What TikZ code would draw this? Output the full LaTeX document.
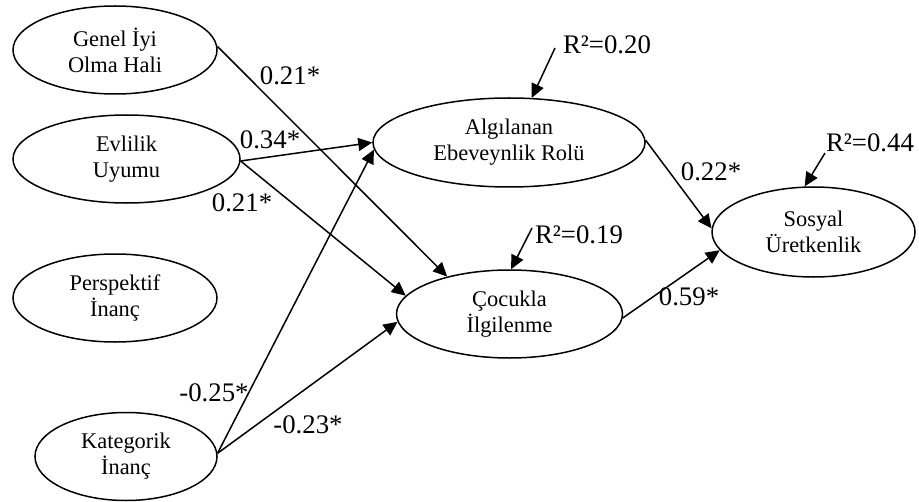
\documentclass[tikz,border=0pt]{standalone}
\usepackage{fontspec}
\setmainfont{Liberation Serif}
\usetikzlibrary{shapes.geometric, arrows.meta}

\begin{document}
\begin{tikzpicture}[x=0.5pt, y=-0.5pt,
    latent/.style={draw=black, line width=0.75pt, ellipse, inner sep=0pt, minimum height=44pt, align=center, font=\fontsize{11.2}{13}\selectfont},
    effect/.style={draw=black, line width=0.75pt, -{Triangle[length=7pt, width=6.5pt]}},
    coef/.style={inner sep=0pt, font=\fontsize{13.4}{15}\selectfont}]
    \useasboundingbox (0,0) rectangle (919,502);
    % predictors
    \node (genel) [latent, minimum width=102pt] at (115,50) {Genel İyi\\Olma Hali};
    \node (evlilik) [latent, minimum width=113.5pt] at (126.5,159) {Evlilik\\Uyumu};
    \node (perspektif) [latent, minimum width=102pt] at (115,298) {Perspektif\\İnanç};
    \node (kategorik) [latent, minimum width=91pt] at (126,456.5) {Kategorik\\İnanç};
    % mediators and outcome
    \node (algilanan) [latent, minimum width=136pt, minimum height=44.5pt] at (509,142.5) {Algılanan\\Ebeveynlik Rolü};
    \node (cocukla) [latent, minimum width=113pt] at (509.5,314) {Çocukla\\İlgilenme};
    \node (sosyal) [latent, minimum width=101.5pt, minimum height=45pt] at (813.5,232) {Sosyal\\Üretkenlik};
    % paths
    \draw[effect] (genel.2) -- (cocukla.149);
    \draw[effect] (evlilik.-1) -- (algilanan.180);
    \draw[effect] (evlilik.-1) -- (cocukla.170);
    \draw[effect] (kategorik.2) -- (algilanan.183);
    \draw[effect] (kategorik.2) -- (cocukla.184);
    \draw[effect] (algilanan.1) -- (sosyal.178);
    \draw[effect] (cocukla.-2) -- (sosyal.191);
    % path coefficients
    \node (b genel coc) [coef] at (290,76) {0.21*};
    \node (b evl alg) [coef] at (270,140) {0.34*};
    \node (b evl coc) [coef] at (242,203) {0.21*};
    \node (b kat alg) [coef] at (214,393) {-0.25*};
    \node (b kat coc) [coef] at (308,425) {-0.23*};
    \node (b alg sos) [coef] at (711,172) {0.22*};
    \node (b coc sos) [coef] at (689,297) {0.59*};
    % explained variance
    \node (r2 alg) [coef] at (607,45) {R²=0.20};
    \node (r2 coc) [coef] at (579,235) {R²=0.19};
    \node (r2 sos) [coef] at (870,143) {R²=0.44};
    \coordinate (r2 alg tail) at (555,48);
    \coordinate (r2 coc tail) at (532,228);
    \coordinate (r2 sos tail) at (825,153);
    \draw[effect] (r2 alg tail) -- (algilanan.63);
    \draw[effect] (r2 coc tail) -- (cocukla.88);
    \draw[effect] (r2 sos tail) -- (sosyal.101);
\end{tikzpicture}
\end{document}
